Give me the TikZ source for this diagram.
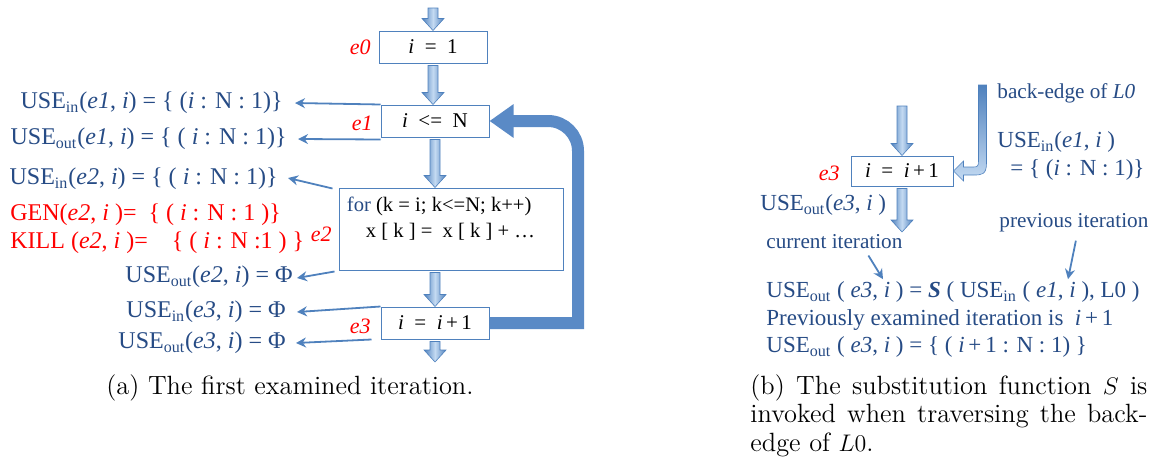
\documentclass[tikz,border=0pt]{standalone}
\usepackage{fontspec}
\newfontfamily\tnr{Liberation Serif}
\usetikzlibrary{arrows.meta,calc}
\definecolor{txtblue}{HTML}{264B85}
\definecolor{arrblue}{HTML}{4F81BD}
\definecolor{arrlight}{HTML}{C4DAF2}
\definecolor{edgeblue}{HTML}{5A8AC6}
\definecolor{lblred}{HTML}{FF0000}

% vertical block arrow with a cylinder-like shading
\newcommand\blk[2]{%
  \path[blkarrow] let \p1=(#1), \p2=(#2) in
    (\x1-2.5pt,\y1-1pt) -- (\x1-2.5pt,\y2+6pt) -- (\x1-5.5pt,\y2+6pt) -- (\x1,\y2)
    -- (\x1+5.5pt,\y2+6pt) -- (\x1+2.5pt,\y2+6pt) -- (\x1+2.5pt,\y1-1pt) -- cycle;}

\tikzset{
  box/.style={draw=arrblue, line width=0.5pt, fill=white, inner sep=0pt,
    font=\tnr\fontsize{10.5}{12}\selectfont},
  lbl/.style={text=lblred, inner sep=0pt, font=\tnr\itshape\fontsize{11}{13}\selectfont},
  eqA/.style={text=txtblue, inner sep=0pt, anchor=east, font=\tnr\fontsize{12}{14}\selectfont},
  redeq/.style={text=lblred, inner sep=0pt, anchor=west, font=\tnr\fontsize{12}{14}\selectfont},
  eqB/.style={text=txtblue, inner sep=0pt, anchor=west, font=\tnr\fontsize{11.5}{13}\selectfont},
  noteB/.style={text=txtblue, inner sep=0pt, anchor=west, font=\tnr\fontsize{10.6}{12}\selectfont},
  thinarrow/.style={draw=arrblue, line width=0.9pt, -{Stealth[length=5pt,width=5pt]}},
  blkarrow/.style={draw=arrblue, line width=0.3pt, left color=arrblue, right color=arrblue,
    middle color=arrlight},
  backedge/.style={draw=edgeblue, line width=6pt, -{Triangle[length=12pt 0 0,width=16pt 0 0]}},
  captxt/.style={inner sep=0pt, anchor=base west, font=\fontsize{13.2}{16}\selectfont},
}

\begin{document}
\begin{tikzpicture}[x=0.5pt,y=-0.5pt]
\useasboundingbox (0,0) rectangle (1166,466);

% ---------- (a) the first examined iteration ----------
\node[box, minimum width=54pt, minimum height=16pt] (e0) at (433,47) {\textit{i} ~=~ 1};
\node[box, minimum width=54pt, minimum height=16pt] (e1) at (435,121) {\textit{i} ~<=~ N};
\node[box, minimum width=112pt, minimum height=41pt] (e2) at (451,229) {};
\node[box, minimum width=54pt, minimum height=16pt] (e3) at (435,323) {\textit{i} ~=~ \textit{i}\,+\,1};
\node[anchor=west, inner sep=0pt, font=\tnr\fontsize{10.3}{12}\selectfont]
  (e2l1) at ($(e2.north west)+(8,19)$) {{\color{txtblue}for} (k = i; k<=N; k++)};
\node[anchor=west, inner sep=0pt, font=\tnr\fontsize{10.3}{12}\selectfont]
  (e2l2) at ($(e2.north west)+(27,44)$) {x [ k ] =~ x [ k ] + \dots};

\node[lbl, anchor=east] (le0) at (371,47) {e0};
\node[lbl, anchor=east] (le1) at (373,123) {e1};
\node[lbl, anchor=east] (le2) at (332,234) {e2};
\node[lbl, anchor=east] (le3) at (371,326) {e3};

\coordinate (a0) at (433,6);
\coordinate (a4) at (435,362);
\blk{a0}{e0.north}
\blk{e0.south}{e1.north}
\blk{e1.south}{e2.north -| e1.south}
\blk{e2.south -| e3.north}{e3.north}
\blk{e3.south}{a4}

% back-edge of the loop
\coordinate (rail) at (578,0);
\draw[backedge] (e3.east) -- (e3.east -| rail) -- ($(e1.east -| rail)+(0,30)$)
  arc[start angle=0,end angle=-90,radius=30] -- (e1.east);

% data-flow sets on the edges
\node[eqA] (u1) at (283,103) {USE\textsubscript{in}(\textit{e1}, \textit{i}) = \{ (\textit{i} : N : 1)\}};
\node[eqA] (u2) at (287,139) {USE\textsubscript{out}(\textit{e1}, \textit{i}) = \{ ( \textit{i} : N : 1)\}};
\node[eqA] (u3) at (278,179) {USE\textsubscript{in}(\textit{e2}, \textit{i}) = \{ ( \textit{i} : N : 1)\}};
\node[redeq] (gen) at (10,215) {GEN(\textit{e2}, \textit{i} )=~ \{ ( \textit{i} : N : 1 )\}};
\node[redeq] (kill) at (10,243) {KILL (\textit{e2}, \textit{i} )=~~~ \{ ( \textit{i} : N :1 ) \}};
\node[eqA] (u4) at (293,277) {USE\textsubscript{out}(\textit{e2}, \textit{i}) = Φ};
\node[eqA] (u5) at (286,312) {USE\textsubscript{in}(\textit{e3}, \textit{i}) = Φ};
\node[eqA] (u6) at (286,343) {USE\textsubscript{out}(\textit{e3}, \textit{i}) = Φ};

\draw[thinarrow] (e1.north west) -- ($(u1.east)+(12,0)$);
\draw[thinarrow] ($(e1.south west)+(0,2)$) -- ($(u2.east)+(11,0)$);
\draw[thinarrow] ($(e2.north west)+(-6,1)$) -- ($(u3.east)+(10,-1)$);
\draw[thinarrow] ($(e2.south west)+(-4,1)$) -- ($(u4.east)+(4,1)$);
\draw[thinarrow] (e3.north west) -- ($(u5.east)+(11,0)$);
\draw[thinarrow] ($(e3.south west)+(-9,0)$) -- ($(u6.east)+(10,0)$);

\node[captxt] (capa) at (106,394) {(a) The first examined iteration.};

% ---------- (b) the substitution function ----------
\node[box, minimum width=51pt, minimum height=15pt] (b3) at (902,171) {\textit{i} ~=~ \textit{i}\,+\,1};
\node[lbl, anchor=east] (lb3) at (840,173) {e3};
\coordinate (bt) at (902,104);
\coordinate (bb) at (902,232);
\blk{bt}{b3.north}
\blk{b3.south}{bb}

% back-edge entering the block
\begin{scope}[shift={(b3.east)}]
  \path[draw=arrblue, line width=0.3pt, top color=arrblue, bottom color=arrlight]
    (25,-86) -- (33,-86) -- (33,-8) .. controls (33,4) and (28,4) .. (20,4)
    -- (10,4) -- (10,10) -- (0,0) -- (10,-10) -- (10,-4) -- (20,-4)
    .. controls (24,-4) and (25,-5) .. (25,-10) -- cycle;
\end{scope}

\node[noteB] (be) at (997,93) {back-edge of \textit{L0}};
\node[eqB] (ui) at (997,142) {USE\textsubscript{in}(\textit{e1}, \textit{i} )};
\node[eqB] (uieq) at (1010,170) {= \{ (\textit{i} : N : 1)\}};
\node[eqB] (uo) at (760,205) {USE\textsubscript{out}(\textit{e3}, \textit{i} )};
\node[noteB] (cur) at (766,242) {current iteration};
\node[noteB] (prev) at (999,223) {previous iteration};

\node[eqB] (l1) at (766,292) {USE\textsubscript{out} ( \textit{e3}, \textit{i} ) = \textbf{\textit{S}} ( USE\textsubscript{in} ( \textit{e1}, \textit{i} ), L0 )};
\node[eqB] (l2) at (766,320) {Previously examined iteration is~ \textit{i}\,+\,1};
\node[eqB] (l3) at (766,347) {USE\textsubscript{out} ( \textit{e3}, \textit{i} ) = \{ ( \textit{i}\,+\,1 : N : 1) \}};

\draw[thinarrow] ($(cur.south)+(34,6)$) -- ($(l1.north west)+(117,-2)$);
\draw[thinarrow] ($(prev.south)+(2,8)$) -- ($(l1.north west)+(302,-2)$);

\node[captxt] (cb1) at (750,394) {\makebox[198.5pt][s]{(b) The substitution function $S$ is}};
\node[captxt] (cb2) at (750,422.5) {\makebox[198.5pt][s]{invoked when traversing the back-}};
\node[captxt] (cb3) at (750,451) {edge of $L0$.};
\end{tikzpicture}
\end{document}
